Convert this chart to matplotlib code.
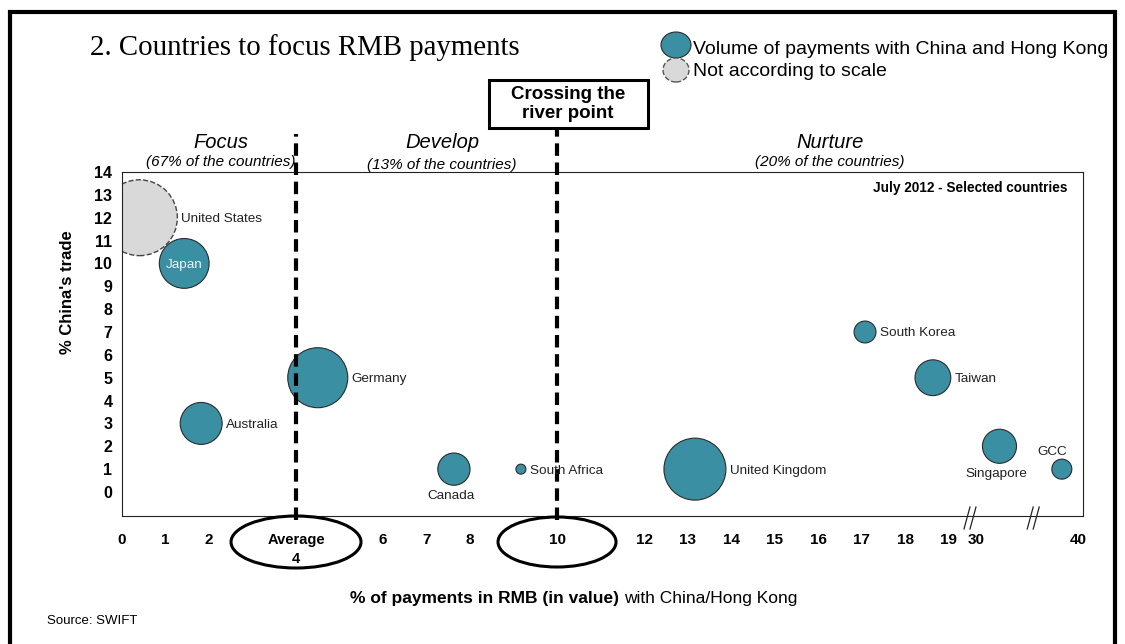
import numpy as np
import matplotlib
matplotlib.use("Agg")
import matplotlib.pyplot as plt
from matplotlib.patches import Ellipse, Rectangle
from matplotlib.lines import Line2D

# data
countries = ["United States", "Japan", "Australia", "Germany", "Canada", "South Africa",
             "United Kingdom", "South Korea", "Taiwan", "Singapore", "GCC"]
pay_rmb = [0.4, 1.43, 1.82, 4.5, 7.63, 9.17, 13.17, 17.08, 18.64, 32.3, 38.4]
china_trade = [12, 10, 3, 5, 1, 1, 1, 7, 5, 2, 1]
volume = [144, 62, 44, 90, 26, 2.5, 96, 12, 32, 29, 10]   # relative bubble area
label_side = ["right", "inside", "right", "right", "below", "right",
              "right", "right", "right", "below", "above"]

x_ticks = [0, 1, 2, 4, 6, 7, 8, 10, 12, 13, 14, 15, 16, 17, 18, 19, 30, 40]
x_tick_labels = ["0", "1", "2", "Average\n4", "6", "7", "8", "10", "12", "13", "14",
                 "15", "16", "17", "18", "19", "30", "40"]
y_ticks = list(range(0, 15))
thresholds = [4, 10]
breaks = [27.6, 35.6]

zones = ["Focus", "Develop", "Nurture"]
zone_share = ["(67% of the countries)", "(13% of the countries)", "(20% of the countries)"]

W, H = 1125, 644
TEAL = "#3A8FA3"
NARROW = ["Liberation Sans Narrow", "Liberation Sans", "DejaVu Sans"]
SANS = ["Liberation Sans", "DejaVu Sans"]


def fx(p):
    return p / W


def fy(p):
    return 1 - p / H


# broken x axis: 0-19 linear, squeezed gap, then 30-40 compressed
def fwd(x):
    x = np.asarray(x, dtype=float)
    return np.where(x <= 19, x, np.where(x <= 30, 19 + (x - 19) * 0.63 / 11, 19.63 + (x - 30) * 0.235))


def inv(p):
    p = np.asarray(p, dtype=float)
    return np.where(p <= 19, p, np.where(p <= 19.63, 19 + (p - 19) * 11 / 0.63, 30 + (p - 19.63) / 0.235))


fig = plt.figure(figsize=(11.25, 6.44), dpi=100)
ax = fig.add_axes([fx(122), fy(516), (1083 - 122) / W, (516 - 172) / H])
ax.set_xscale("function", functions=(fwd, inv))
ax.set_xlim(0, 40.47)
ax.set_ylim(-1.05, 14)

# bubbles
r_px = np.sqrt(np.array(volume) * 10)
sizes = (2 * r_px * 0.72) ** 2
ax.scatter(pay_rmb[:1], china_trade[:1], s=sizes[:1], color="#D9D9D9",
           edgecolors="#444444", linewidths=1.0, linestyle="--", zorder=2)
ax.scatter(pay_rmb[1:], china_trade[1:], s=sizes[1:], color=TEAL,
           edgecolors="#2b2b2b", linewidths=0.8, zorder=3)

for name, xv, yv, r, side in zip(countries, pay_rmb, china_trade, r_px, label_side):
    if side == "right":
        off, ha, va, col = ((r + 4) * 0.72, -1), "left", "center", "#222222"
    elif side == "below":
        off, ha, va, col = (-3 * 0.72, -(r + 11) * 0.72), "center", "center", "#222222"
    elif side == "above":
        off, ha, va, col = (-10 * 0.72, (r + 7) * 0.72), "center", "center", "#222222"
    else:
        off, ha, va, col = (0, -1), "center", "center", "#EEF4F6"
    ax.annotate(name, (xv, yv), xytext=off, textcoords="offset points",
                ha=ha, va=va, fontsize=9.7, color=col, family=SANS, zorder=6)

# axes styling
for sp in ax.spines.values():
    sp.set_linewidth(0.8)
    sp.set_color("#222222")
ax.set_xticks(x_ticks)
ax.set_xticklabels(x_tick_labels, fontweight="bold", fontsize=11, family=NARROW,
                   linespacing=1.45)
ax.set_yticks(y_ticks)
ax.set_yticklabels([str(v) for v in y_ticks], fontweight="bold", fontsize=11.5, family=SANS)
ax.tick_params(axis="x", length=0, pad=12)
ax.tick_params(axis="y", length=0, pad=7)
ax.minorticks_off()
for lbl in ax.get_xticklabels():
    if "Average" in lbl.get_text():
        lbl.set_fontsize(10.5)

# threshold dashed lines
for t, top in zip(thresholds, [1.11, 1.13]):
    ax.plot([t, t], [-0.012, top], transform=ax.get_xaxis_transform(),
            color="black", lw=3, dashes=(3, 1.6), clip_on=False, zorder=5)

# ellipses round the threshold ticks
for t, (w, h) in zip(thresholds, [(130, 52), (118, 50)]):
    px = ax.transData.transform((t, 0))[0]
    fig.patches.append(Ellipse((fx(px), fy(542)), w / W, h / H, transform=fig.transFigure,
                               fill=False, ec="black", lw=2.2))

# axis break marks
for b in breaks:
    px = ax.transData.transform((b, 0))[0]
    for dx in (-3, 3):
        fig.lines.append(Line2D([fx(px + dx - 3), fx(px + dx + 3)], [fy(529), fy(507)],
                                transform=fig.transFigure, color="#222222", lw=0.9))

# zone headings
for name, share, cx, sy in zip(zones, zone_share, [221, 442, 830], [162, 165, 162]):
    fig.text(fx(cx), fy(142), name, ha="center", va="center", style="italic",
             fontsize=14.5, family=SANS)
    fig.text(fx(cx), fy(sy), share, ha="center", va="center", style="italic",
             fontsize=11, family=SANS)

ax.text(fx(1067), fy(188), "July 2012 - Selected countries", transform=fig.transFigure,
        ha="right", va="center", fontsize=9.8, fontweight="bold", family=SANS)

# crossing-the-river box
fig.patches.append(Rectangle((fx(489), fy(128)), 159 / W, 48 / H, transform=fig.transFigure,
                             fill=True, fc="white", ec="black", lw=2.2))
fig.text(fx(568), fy(104), "Crossing the\nriver point", ha="center", va="center",
         fontsize=13.5, fontweight="bold", family=SANS, linespacing=1.2)

# title and legend
fig.text(fx(90), fy(48), "2. Countries to focus RMB payments", ha="left", va="center",
         fontsize=20.8, family=["Liberation Serif", "DejaVu Serif"])
fig.patches.append(Ellipse((fx(676), fy(45)), 30 / W, 26 / H, transform=fig.transFigure,
                           fc=TEAL, ec="#2b2b2b", lw=0.8))
fig.patches.append(Ellipse((fx(676), fy(70)), 26 / W, 24 / H, transform=fig.transFigure,
                           fc="#D9D9D9", ec="#555555", lw=1.0, ls="--"))
fig.text(fx(693), fy(49), "Volume of payments with China and Hong Kong", ha="left",
         va="center", fontsize=14, family=SANS)
fig.text(fx(693), fy(72), "Not according to scale", ha="left", va="center",
         fontsize=14, family=SANS)

# axis titles
fig.text(fx(68), fy(292), "% China's trade", rotation=90, ha="center", va="center",
         fontsize=12, fontweight="bold", family=SANS)
fig.text(fx(619), fy(598), "% of payments in RMB (in value)", ha="right", va="center",
         fontsize=12.5, fontweight="bold", family=NARROW)
fig.text(fx(624), fy(598), "with China/Hong Kong", ha="left", va="center",
         fontsize=12.5, family=NARROW)
fig.text(fx(47), fy(621), "Source: SWIFT", ha="left", va="center", fontsize=9.5, family=NARROW)

# slide frame (bottom edge runs off the page)
fig.patches.append(Rectangle((fx(10), fy(660)), 1105 / W, 648 / H, transform=fig.transFigure,
                             fill=False, ec="black", lw=3))

fig.savefig("out.png", dpi=100)
